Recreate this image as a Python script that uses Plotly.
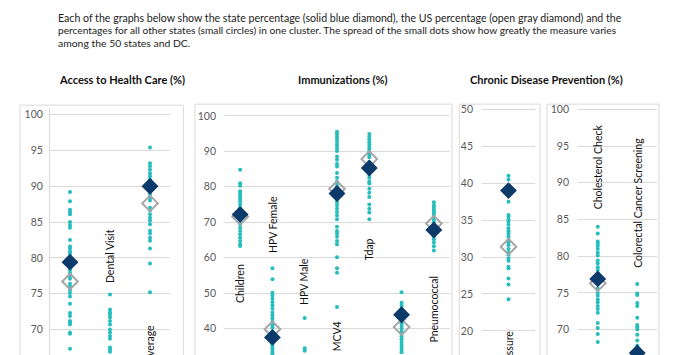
import plotly.graph_objects as go

W, H = 676, 355

# ---------------- data ----------------
intro_lines = [
    "Each of the graphs below show the state percentage (solid blue diamond), the US percentage (open gray diamond) and the",
    "percentages for all other states (small circles) in one cluster. The spread of the small dots show how greatly the measure varies",
    "among the 50 states and DC.",
]
section_titles = ["Access to Health Care (%)", "Immunizations (%)", "Chronic Disease Prevention (%)"]

# Panel 1: Access to Health Care
p1_categories = ["Routine Checkup", "Dental Visit", "Health Care Coverage"]
p1_state = [79.4, None, 90.0]
p1_us = [76.7, None, 87.6]
p1_checkup = [89.2, 87.9, 86.7, 86.4, 86.1, 85.0, 84.6, 84.2, 82.5, 81.6, 81.3, 80.9, 80.6,
              80.2, 79.8, 79.1, 78.7, 78.3, 77.9, 77.5, 77.1, 76.4, 76.0, 75.5, 75.1, 74.6,
              73.6, 72.3, 71.9, 71.2, 71.0, 70.7, 69.6, 69.4, 67.3]
p1_dental = [74.9, 72.8, 72.4, 72.1, 71.7, 71.2, 70.7, 70.0, 69.6, 69.1, 68.7, 67.5, 67.2, 66.9]
p1_coverage = [95.4, 93.2, 92.8, 92.3, 91.8, 91.4, 90.9, 90.5, 89.6, 89.2, 88.8, 88.4, 88.0,
               87.0, 86.6, 86.1, 85.6, 85.2, 84.7, 83.8, 83.4, 82.8, 82.4, 81.3, 79.2, 75.2]

# Panel 2: Immunizations
p2_categories = ["Children", "HPV Female", "HPV Male", "MCV4", "Tdap", "Influenza", "Pneumococcal"]
p2_state = [72.2, 37.5, None, 78.1, 85.3, 43.9, 67.8]
p2_us = [71.5, 39.8, None, 79.4, 87.8, 40.4, 69.6]
p2_children = [84.8, 81.0, 80.3, 78.7, 78.0, 77.3, 76.7, 75.9, 75.0, 74.0, 73.4, 72.8, 71.6,
               71.0, 70.3, 69.4, 68.4, 67.5, 66.6, 65.6, 64.7, 63.8, 63.3]
p2_hpv_female = [57.0, 53.9, 50.1, 49.3, 48.4, 47.5, 46.6, 45.6, 44.5, 43.7, 42.8, 41.9, 40.9,
                 40.3, 39.2, 38.5, 37.0, 36.4, 35.8, 35.2, 34.6, 34.0, 33.4, 32.8]
p2_hpv_male = [43.0, 34.4, 33.7]
p2_mcv4 = [95.5, 94.9, 94.2, 93.5, 92.6, 91.8, 90.9, 90.1, 88.5, 87.6, 86.4, 85.7, 83.9, 82.5,
           81.5, 80.9, 80.1, 79.0, 77.3, 76.4, 75.6, 74.7, 73.8, 72.9, 71.9, 70.8, 68.7, 67.5,
           66.8, 65.9, 64.7, 63.8, 60.1, 57.0, 55.7, 46.1]
p2_tdap = [94.9, 94.1, 93.4, 92.5, 91.8, 91.0, 90.4, 89.6, 89.0, 88.3, 87.0, 86.2, 84.3, 83.4,
           82.5, 81.5, 80.9, 79.4, 78.3, 77.1, 75.0, 73.8, 72.7, 70.8]
p2_influenza = [50.2, 47.3, 46.5, 45.6, 45.0, 44.5, 43.0, 42.3, 41.5, 40.8, 40.0, 39.3, 38.5,
                37.8, 37.0, 36.3, 35.5, 34.8, 34.0, 33.3]
p2_pneumococcal = [75.6, 74.7, 74.1, 73.4, 72.7, 72.1, 71.3, 70.6, 70.0, 69.0, 68.4, 67.2,
                   66.6, 66.0, 65.2, 64.3, 63.2, 62.0]

# Panel 3: Chronic Disease Prevention - blood pressure
p3_categories = ["Blood Pressure"]
p3_state = [39.0]
p3_us = [31.4]
p3_blood_pressure = [41.0, 40.5, 37.5, 35.7, 35.5, 35.1, 34.8, 34.4, 33.9, 33.5, 33.2, 32.8,
                     32.3, 32.0, 31.6, 31.1, 30.6, 30.3, 29.8, 29.5, 28.7, 28.5, 27.1, 26.3, 24.3]

# Panel 4: Chronic Disease Prevention - screening
p4_categories = ["Cholesterol Check", "Colorectal Cancer Screening"]
p4_state = [76.9, 66.8]
p4_us = [76.3, None]
p4_cholesterol = [84.0, 83.1, 82.0, 81.7, 81.4, 81.0, 80.5, 80.1, 79.4, 79.0, 78.5, 78.1, 77.6,
                  77.2, 76.6, 75.6, 75.0, 74.6, 74.1, 73.7, 73.2, 72.8, 72.3, 70.9, 70.2, 69.4, 68.3]
p4_colorectal = [76.2, 74.9, 74.7, 73.6, 73.2, 71.6, 70.6, 70.3, 70.0, 69.3, 68.5, 67.8, 67.3]

# ---------------- layout / styles ----------------
DOT = "#26BDBE"
STATE = "#0B3A6B"
US = "#A6A6A6"
GRID = "#D9D9D9"
FONT = "Lato"

panels = [
    dict(cats=p1_categories, state=p1_state, us=p1_us,
         dots=[p1_checkup, p1_dental, p1_coverage],
         px=(50, 170), box=(20, 183.3, 103), ref=((100, 112.5), (70, 329.3)), top=106,
         dtick=5, axisline=True, standoff=4,
         labels={"Dental Visit": (80.25, "middle"), "Health Care Coverage": (70.8, "top")}),
    dict(cats=p2_categories, state=p2_state, us=p2_us,
         dots=[p2_children, p2_hpv_female, p2_hpv_male, p2_mcv4, p2_tdap, p2_influenza, p2_pneumococcal],
         px=(224, 450), box=(195, 452, 102), ref=((100, 113.8), (40, 328.3)), top=106,
         dtick=10, axisline=False, standoff=7,
         labels={"Children": (52.6, "middle"), "HPV Female": (69.3, "middle"),
                 "HPV Male": (53.3, "middle"), "MCV4": (37.8, "middle"),
                 "Tdap": (62.4, "middle"), "Pneumococcal": (45.6, "middle")}),
    dict(cats=p3_categories, state=p3_state, us=p3_us,
         dots=[p3_blood_pressure],
         px=(482, 535), box=(459.3, 540, 102), ref=((50, 107.3), (20, 330.7)), top=104,
         dtick=5, axisline=False, standoff=8,
         labels={"Blood Pressure": (20.3, "top")}),
    dict(cats=p4_categories, state=p4_state, us=p4_us,
         dots=[p4_cholesterol, p4_colorectal],
         px=(578, 657), box=(547, 659, 102), ref=((100, 107.3), (70, 329.3)), top=104,
         dtick=5, axisline=False, standoff=8,
         labels={"Cholesterol Check": (92.2, "middle"), "Colorectal Cancer Screening": (87.3, "middle")}),
]

fig = go.Figure()
annotations = []
shapes = []

for i, p in enumerate(panels, start=1):
    xa = "x" if i == 1 else f"x{i}"
    ya = "y" if i == 1 else f"y{i}"
    (v1, y1), (v2, y2) = p["ref"]
    scale = (y2 - y1) / (v1 - v2)  # px per unit
    rtop = v1 + (y1 - p["top"]) / scale
    rbot = v1 - (H - y1) / scale
    n = len(p["cats"])

    for cat, vals in zip(p["cats"], p["dots"]):
        fig.add_trace(go.Scatter(x=[cat] * len(vals), y=vals, mode="markers", xaxis=xa, yaxis=ya,
                                 marker=dict(color=DOT, size=4, line=dict(width=0)),
                                 showlegend=False, hoverinfo="skip"))
    fig.add_trace(go.Scatter(x=p["cats"], y=p["us"], mode="markers", xaxis=xa, yaxis=ya,
                             marker=dict(symbol="diamond-open", color=US, size=12, line=dict(width=2, color=US)),
                             showlegend=False, hoverinfo="skip"))
    fig.add_trace(go.Scatter(x=p["cats"], y=p["state"], mode="markers", xaxis=xa, yaxis=ya,
                             marker=dict(symbol="diamond", color=STATE, size=13, line=dict(width=0)),
                             showlegend=False, hoverinfo="skip"))

    xkey = "xaxis" if i == 1 else f"xaxis{i}"
    ykey = "yaxis" if i == 1 else f"yaxis{i}"
    fig.update_layout(**{
        xkey: dict(domain=[p["px"][0] / W, p["px"][1] / W], anchor=ya, type="category",
                   categoryorder="array", categoryarray=p["cats"], range=[-0.5, n - 0.5],
                   showticklabels=False, showgrid=False, zeroline=False, showline=False, fixedrange=True),
        ykey: dict(domain=[0, 1 - p["top"] / H], anchor=xa, range=[rbot, rtop],
                   tick0=0, dtick=p["dtick"], showgrid=True, gridcolor=GRID, gridwidth=1,
                   zeroline=False, showline=p["axisline"], linecolor=GRID, linewidth=1,
                   ticks="", ticklabelstandoff=p["standoff"],
                   tickfont=dict(family=FONT, size=10.5, color="#595959"), fixedrange=True),
    })

    for cat, (yv, anchor) in p["labels"].items():
        annotations.append(dict(x=cat, y=yv, xref=xa, yref=ya, text=cat, showarrow=False,
                                textangle=-90, xanchor="center", yanchor=anchor,
                                font=dict(family=FONT, size=10.5, color="#111111")))

    bx0, bx1, by = p["box"]
    shapes.append(dict(type="rect", xref="paper", yref="paper", x0=bx0 / W, x1=bx1 / W,
                       y0=-0.2, y1=1 - by / H, line=dict(color=GRID, width=1), layer="below"))

intro_sizes = [10.6, 10.2, 10.4]
for k, (line, fs) in enumerate(zip(intro_lines, intro_sizes)):
    annotations.append(dict(x=56 / W, y=1 - (15 + 12.6 * k) / H, xref="paper", yref="paper",
                            text=line, showarrow=False, xanchor="left", yanchor="middle",
                            font=dict(family=FONT, size=fs, color="#222222")))

for title, cx in zip(section_titles, [122, 343, 546.5]):
    annotations.append(dict(x=cx / W, y=1 - 77 / H, xref="paper", yref="paper",
                            text=f"<b>{title}</b>", showarrow=False, xanchor="center", yanchor="middle",
                            font=dict(family=FONT, size=11, color="#111111")))

fig.update_layout(width=W, height=H, margin=dict(l=0, r=0, t=0, b=0, pad=0),
                  paper_bgcolor="white", plot_bgcolor="white",
                  annotations=annotations, shapes=shapes, showlegend=False,
                  font=dict(family=FONT))

fig.write_html("out.html", config={"displayModeBar": False},
               post_script="document.body.style.margin='0';document.body.style.padding='0';")
